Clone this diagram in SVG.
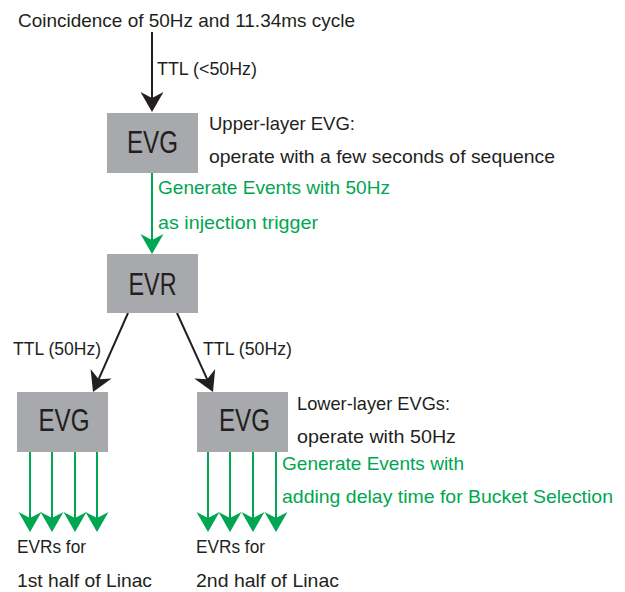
<svg xmlns="http://www.w3.org/2000/svg" width="625" height="592" viewBox="0 0 625 592">
<style>
.box{fill:#a7a9ac}
.lbl{font-family:"Liberation Sans",Arial,sans-serif;font-size:31px;fill:#231f20;text-anchor:middle}
.t{font-family:"Liberation Sans",Arial,sans-serif;font-size:19px;fill:#231f20}
.g{font-family:"Liberation Sans",Arial,sans-serif;font-size:19px;fill:#00a651}
.kl{stroke:#231f20;stroke-width:2;fill:none}
.gl{stroke:#00a651;stroke-width:2;fill:none}
</style>
<defs>
<marker id="ak" markerUnits="userSpaceOnUse" viewBox="-11 -12 22 24" refX="0" refY="0" markerWidth="22" markerHeight="24" orient="auto">
<path d="M10,0 L-10,-11.5 L-4,0 L-10,11.5 Z" fill="#231f20"/>
</marker>
<marker id="ag" markerUnits="userSpaceOnUse" viewBox="-11 -12 22 24" refX="0" refY="0" markerWidth="22" markerHeight="24" orient="auto">
<path d="M10,0 L-10,-11.5 L-4,0 L-10,11.5 Z" fill="#00a651"/>
</marker>
</defs>
<rect width="625" height="592" fill="#ffffff"/>
<g id="connectors">
<line class="kl" x1="152" y1="32" x2="152" y2="102" marker-end="url(#ak)"/>
<line class="gl" x1="152" y1="173" x2="152" y2="244" marker-end="url(#ag)"/>
<line class="kl" x1="128" y1="313" x2="97.05" y2="382.86" marker-end="url(#ak)"/>
<line class="kl" x1="177" y1="313" x2="208.85" y2="382.9" marker-end="url(#ak)"/>
<line class="gl" x1="30" y1="452" x2="30" y2="522" marker-end="url(#ag)"/>
<line class="gl" x1="52" y1="452" x2="52" y2="522" marker-end="url(#ag)"/>
<line class="gl" x1="75" y1="452" x2="75" y2="522" marker-end="url(#ag)"/>
<line class="gl" x1="97" y1="452" x2="97" y2="522" marker-end="url(#ag)"/>
<line class="gl" x1="208" y1="452" x2="208" y2="522" marker-end="url(#ag)"/>
<line class="gl" x1="230" y1="452" x2="230" y2="522" marker-end="url(#ag)"/>
<line class="gl" x1="253" y1="452" x2="253" y2="522" marker-end="url(#ag)"/>
<line class="gl" x1="276" y1="452" x2="276" y2="522" marker-end="url(#ag)"/>
<text class="t" x="157" y="75" textLength="100" lengthAdjust="spacingAndGlyphs">TTL (&lt;50Hz)</text>
<text class="g" x="158" y="194" textLength="232" lengthAdjust="spacingAndGlyphs">Generate Events with 50Hz</text>
<text class="g" x="158" y="229" textLength="160" lengthAdjust="spacingAndGlyphs">as injection trigger</text>
<text class="t" x="13" y="355" textLength="88" lengthAdjust="spacingAndGlyphs">TTL (50Hz)</text>
<text class="t" x="203" y="355" textLength="89" lengthAdjust="spacingAndGlyphs">TTL (50Hz)</text>
<text class="g" x="282" y="470" textLength="182" lengthAdjust="spacingAndGlyphs">Generate Events with</text>
<text class="g" x="282" y="503" textLength="331" lengthAdjust="spacingAndGlyphs">adding delay time for Bucket Selection</text>
</g>
<g id="source">
<text class="t" x="18" y="27" textLength="337" lengthAdjust="spacingAndGlyphs">Coincidence of 50Hz and 11.34ms cycle</text>
</g>
<g id="evg-upper">
<rect class="box" x="107" y="113" width="91" height="60"/>
<text class="lbl" x="152.5" y="153" textLength="51" lengthAdjust="spacingAndGlyphs">EVG</text>
<text class="t" x="209" y="130" textLength="146" lengthAdjust="spacingAndGlyphs">Upper-layer EVG:</text>
<text class="t" x="209" y="163" textLength="346" lengthAdjust="spacingAndGlyphs">operate with a few seconds of sequence</text>
</g>
<g id="evr">
<rect class="box" x="107" y="254" width="91" height="59"/>
<text class="lbl" x="152.5" y="295" textLength="48" lengthAdjust="spacingAndGlyphs">EVR</text>
</g>
<g id="evg-left">
<rect class="box" x="17" y="392" width="91" height="60"/>
<text class="lbl" x="64" y="431" textLength="51" lengthAdjust="spacingAndGlyphs">EVG</text>
</g>
<g id="evg-right">
<rect class="box" x="197" y="392" width="91" height="60"/>
<text class="lbl" x="244.5" y="431" textLength="51" lengthAdjust="spacingAndGlyphs">EVG</text>
<text class="t" x="297" y="410" textLength="153" lengthAdjust="spacingAndGlyphs">Lower-layer EVGs:</text>
<text class="t" x="297" y="443" textLength="159" lengthAdjust="spacingAndGlyphs">operate with 50Hz</text>
</g>
<g id="evrs-first">
<text class="t" x="17" y="553" textLength="69" lengthAdjust="spacingAndGlyphs">EVRs for</text>
<text class="t" x="17" y="587" textLength="135" lengthAdjust="spacingAndGlyphs">1st half of Linac</text>
</g>
<g id="evrs-second">
<text class="t" x="196" y="553" textLength="69" lengthAdjust="spacingAndGlyphs">EVRs for</text>
<text class="t" x="196" y="587" textLength="143" lengthAdjust="spacingAndGlyphs">2nd half of Linac</text>
</g>
</svg>
